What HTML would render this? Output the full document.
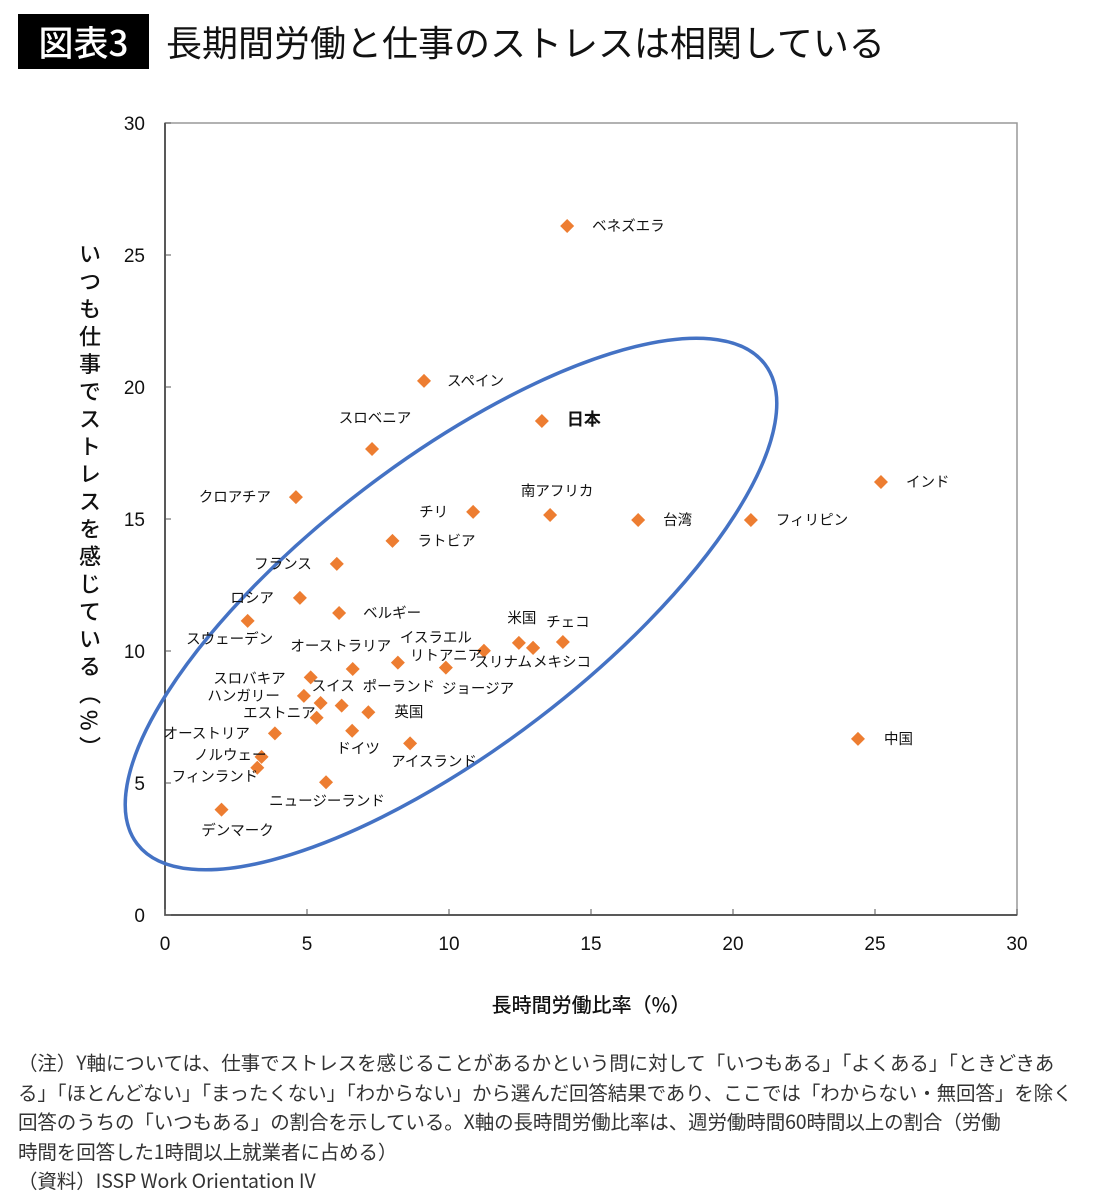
<!DOCTYPE html>
<html><head><meta charset="utf-8"><style>
body{margin:0;background:#fff;width:1100px;height:1200px;overflow:hidden;font-family:"Liberation Sans","Noto Sans CJK JP",sans-serif;}
#tag{position:absolute;left:18px;top:14px;width:131px;height:55px;background:#000;color:#fff;font:500 35px "Noto Sans CJK JP",sans-serif;line-height:55px;text-align:center;}
#title{position:absolute;left:166px;top:14px;font:400 36px "Noto Sans CJK JP",sans-serif;line-height:55px;color:#111;letter-spacing:0px;white-space:nowrap;}
#notes{position:absolute;left:18px;top:1047px;font:400 19.5px "Noto Sans CJK JP",sans-serif;line-height:29.6px;color:#333;white-space:nowrap;letter-spacing:-0.1px;}
svg{position:absolute;left:0;top:0;}
</style></head><body>
<div id="tag">図表3</div>
<div id="title">長期間労働と仕事のストレスは相関している</div>
<svg id="chart" width="1100" height="1040"></svg>
<div id="notes">
<div>（注）Y軸については、仕事でストレスを感じることがあるかという問に対して「いつもある」「よくある」「ときどきあ</div>
<div>る」「ほとんどない」「まったくない」「わからない」から選んだ回答結果であり、ここでは「わからない・無回答」を除く</div>
<div>回答のうちの「いつもある」の割合を示している。X軸の長時間労働比率は、週労働時間60時間以上の割合（労働</div>
<div>時間を回答した1時間以上就業者に占める）</div>
<div>（資料）ISSP Work Orientation IV</div>
</div>
<script>
const countries=["ベネズエラ","スペイン","日本","スロベニア","インド","クロアチア","南アフリカ","チリ","台湾","フィリピン","ラトビア","中国","フランス","ロシア","ベルギー","スウェーデン","イスラエル","米国","メキシコ","スリナム","チェコ","リトアニア","オーストラリア","ジョージア","スロバキア","ハンガリー","スイス","ポーランド","英国","エストニア","オーストリア","ドイツ","アイスランド","ノルウェー","フィンランド","ニュージーランド","デンマーク"];
const xValues=[14.16,9.12,13.27,7.29,25.21,4.61,13.56,10.85,16.66,20.63,8.01,24.40,6.05,4.75,6.13,2.91,11.23,12.46,12.96,12.96,14.01,8.20,6.61,9.89,5.13,4.89,5.48,6.22,7.16,5.34,3.87,6.59,8.63,3.40,3.25,5.67,1.99];
const yValues=[26.10,20.23,18.71,17.65,16.40,15.83,15.15,15.27,14.96,14.96,14.17,6.67,13.30,12.01,11.44,11.14,10.01,10.31,10.12,10.12,10.34,9.56,9.32,9.37,9.00,8.30,8.03,7.93,7.68,7.47,6.88,6.98,6.50,5.99,5.58,5.03,3.99];
const xTicks=[0,5,10,15,20,25,30];
const yTicks=[0,5,10,15,20,25,30];
// label placement (styling): dx, dy, anchor
const lab=[[25,5,"start"],[23,5,"start"],[25,4,"start"],[3,-26,"middle"],[25,5,"start"],[-25,5,"end"],[7,-19,"middle"],[-25,5,"end"],[25,5,"start"],[25,5,"start"],[25,5,"start"],[26,5,"start"],[-25,5,"end"],[-26,5,"end"],[24,5,"start"],[-18,23,"middle"],[-12,-8,"end"],[3,-20,"middle"],[0,19,"start"],[-1,19,"end"],[5,-15,"middle"],[12,-2,"start"],[-12,-18,"middle"],[-4,26,"start"],[-25,6,"end"],[-24,5,"end"],[-9,-12,"start"],[21,-14,"start"],[26,5,"start"],[-1,0,"end"],[-25,5,"end"],[6,23,"middle"],[-19,23,"start"],[5,3,"end"],[1,14,"end"],[1,24,"middle"],[16,26,"middle"]];
const L=165,R=1017,T=123,B=915;
const sx=v=>L+(v-0)/30*(R-L), sy=v=>B-(v-0)/30*(B-T);
const svg=document.getElementById('chart');const NS="http://www.w3.org/2000/svg";
function mk(t,a,txt){const e=document.createElementNS(NS,t);for(const k in a)e.setAttribute(k,a[k]);if(txt!=null)e.textContent=txt;svg.appendChild(e);return e;}
let e;
e=mk('rect',{x:L,y:T,width:R-L,height:B-T,fill:'none',stroke:'#999','stroke-width':1.5});


e=mk('path',{d:`M${L},${T} V${B} H${R}`,fill:'none',stroke:'#333','stroke-width':1.5});


xTicks.forEach(t=>{
 e=mk('line',{x1:sx(t),x2:sx(t),y1:B,y2:B-6,stroke:'#555'});
 
 
 e=mk('text',{x:sx(t),y:B+35,'text-anchor':'middle','font-size':19,fill:'#111','font-family':'Liberation Sans, sans-serif'},t);
 
 
});
yTicks.forEach(t=>{
 e=mk('line',{x1:L,x2:L+6,y1:sy(t),y2:sy(t),stroke:'#555'});
 
 
 e=mk('text',{x:L-20,y:sy(t)+7,'text-anchor':'end','font-size':19,fill:'#111','font-family':'Liberation Sans, sans-serif'},t);
 
 
});
e=mk('text',{x:591,y:1012,'text-anchor':'middle','font-size':20,'font-weight':'500',fill:'#111','font-family':'Noto Sans CJK JP, sans-serif'},'長時間労働比率（%）');


e=mk('text',{x:90,y:503,'text-anchor':'middle','font-size':22,'font-weight':'500',fill:'#111','font-family':'Noto Sans CJK JP, sans-serif','writing-mode':'tb','letter-spacing':5.5},'いつも仕事でストレスを感じている（%）');


e=mk('ellipse',{cx:451,cy:604,rx:395,ry:144,transform:'rotate(-37.4 451 604)',fill:'none',stroke:'#4472c4','stroke-width':3.5});


countries.forEach((c,i)=>{
 const x=sx(xValues[i]),y=sy(yValues[i]);
 e=mk('path',{d:`M${x},${y-7} L${x+7},${y} L${x},${y+7} L${x-7},${y} Z`,fill:'#ed7d31'});
 
 
 const l=lab[i];
 e=mk('text',{x:x+l[0],y:y+l[1],'text-anchor':l[2],'font-size':i===2?17:14.5,'font-weight':i===2?'bold':'normal',fill:'#111','font-family':'Noto Sans CJK JP, sans-serif'},c);
 
 
});
</script>
</body></html>
